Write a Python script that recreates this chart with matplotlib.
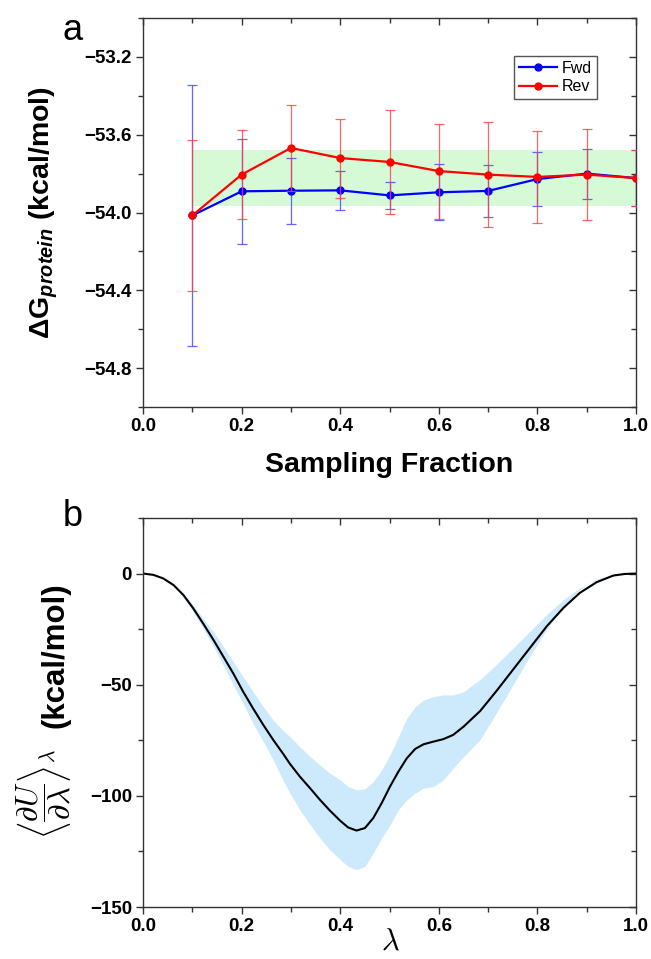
import matplotlib
matplotlib.use("Agg")
import matplotlib.pyplot as plt
from matplotlib.ticker import MultipleLocator
import numpy as np

plt.rcParams['font.family'] = ['Liberation Sans', 'DejaVu Sans']
plt.rcParams['mathtext.fontset'] = 'custom'
plt.rcParams['mathtext.rm'] = 'Liberation Sans:bold'
plt.rcParams['mathtext.it'] = 'Liberation Sans:bold:italic'
plt.rcParams['mathtext.bf'] = 'Liberation Sans:bold'

# panel a: convergence of dG vs sampling fraction
fraction = [0.1, 0.2, 0.3, 0.4, 0.5, 0.6, 0.7, 0.8, 0.9, 1.0]
fwd_dg = [-54.015, -53.891, -53.888, -53.886, -53.912, -53.896, -53.889, -53.828, -53.800, -53.823]
fwd_err = [0.67, 0.27, 0.17, 0.10, 0.07, 0.145, 0.134, 0.14, 0.128, 0.146]
rev_dg = [-54.015, -53.805, -53.668, -53.720, -53.740, -53.787, -53.805, -53.817, -53.805, -53.823]
rev_err = [0.386, 0.23, 0.22, 0.203, 0.266, 0.244, 0.27, 0.237, 0.236, 0.146]
band_lo = -53.968
band_hi = -53.679

# panel b: <dU/dlambda> profile with uncertainty band
lam = [0.0, 0.021, 0.041, 0.062, 0.082, 0.102, 0.122, 0.143, 0.163, 0.183,
       0.203, 0.223, 0.244, 0.264, 0.284,
       0.298, 0.318, 0.339, 0.359, 0.379, 0.400, 0.416, 0.433, 0.450, 0.467,
       0.484, 0.501, 0.518, 0.535, 0.552, 0.569, 0.589, 0.609, 0.629, 0.650,
       0.684, 0.717, 0.751, 0.785, 0.819, 0.853, 0.886, 0.920, 0.954, 0.977, 1.0]
dudl = [0.0, -0.6, -2.2, -5.2, -9.7, -15.7, -22.5, -29.9, -37.4, -44.9,
        -53.1, -60.6, -68.1, -74.8, -81.0,
        -85.6, -91.3, -96.6, -101.8, -106.6, -111.2, -114.2, -115.6, -114.5, -110.0,
        -103.3, -95.8, -89.1, -83.1, -78.9, -76.8, -75.6, -74.5, -72.6, -68.9,
        -61.8, -52.8, -43.1, -33.4, -23.7, -15.4, -8.7, -3.9, -0.9, -0.2, 0.0]
dudl_hi = [0.0, -0.6, -2.2, -5.0, -9.0, -14.2, -20.2, -26.2, -32.9, -39.7,
           -46.4, -53.1, -59.9, -65.9, -70.5,
           -73.4, -77.9, -82.4, -86.1, -89.8, -92.8, -95.8, -97.3, -96.9, -93.6,
           -88.3, -81.6, -73.4, -65.1, -59.9, -56.9, -55.4, -54.6, -54.6, -53.2,
           -47.6, -40.9, -33.4, -25.9, -18.4, -11.7, -6.4, -3.0, -0.9, -0.2, 0.0]
dudl_lo = [0.0, -0.6, -2.2, -5.4, -10.5, -17.2, -24.7, -32.9, -41.2, -50.1,
           -58.4, -67.4, -75.6, -83.8, -93.0,
           -98.8, -106.3, -113.0, -119.0, -124.3, -128.7, -131.7, -133.2, -131.7, -125.7,
           -119.0, -113.0, -106.3, -101.8, -98.8, -96.5, -95.8, -92.8, -87.6, -82.4,
           -74.6, -62.6, -49.9, -37.1, -25.1, -14.7, -7.2, -2.4, -0.45, -0.1, 0.0]


def style_axes(ax):
    for sp in ax.spines.values():
        sp.set_linewidth(1.0)
        sp.set_color('#333333')
    ax.tick_params(which='both', direction='out', width=1.0, color='#333333',
                   labelsize=13.5, pad=3)
    ax.tick_params(which='major', length=5)
    ax.tick_params(which='minor', length=3.5)
    ax.tick_params(which='both', top=True, right=True)
    for lbl in ax.get_xticklabels() + ax.get_yticklabels():
        lbl.set_fontweight('bold')


def mirror_ticks(ax):
    # top/right ticks drawn inward like the original
    for t in ax.xaxis.get_major_ticks() + ax.xaxis.get_minor_ticks():
        t.tick2line.set_marker(3)
    for t in ax.yaxis.get_major_ticks() + ax.yaxis.get_minor_ticks():
        t.tick2line.set_marker(0)


fig = plt.figure(figsize=(6.51, 9.59), dpi=100)
ax_a = fig.add_axes([0.2197, 0.5756, 0.7573, 0.4056])
ax_b = fig.add_axes([0.2197, 0.0542, 0.7573, 0.4057])

# ---- panel a ----
ax_a.fill_between([fraction[0], fraction[-1]], band_lo, band_hi,
                  color='#d6fad6', lw=0, zorder=0)
eb_f = ax_a.errorbar(fraction, fwd_dg, yerr=fwd_err, color='#0000ff',
                     ecolor=(0.25, 0.25, 1.0, 0.8), elinewidth=0.9, capsize=3.5,
                     capthick=0.9, lw=1.6, marker='o', ms=5, zorder=3)
eb_r = ax_a.errorbar(fraction, rev_dg, yerr=rev_err, color='#ff0000',
                     ecolor=(1.0, 0.25, 0.25, 0.8), elinewidth=0.9, capsize=3.5,
                     capthick=0.9, lw=1.6, marker='o', ms=5, zorder=4)
ax_a.set_xlim(0.0, 1.0)
ax_a.set_ylim(-55.0, -53.0)
ax_a.xaxis.set_minor_locator(MultipleLocator(0.1))
ax_a.yaxis.set_minor_locator(MultipleLocator(0.2))
ax_a.set_yticks([-54.8, -54.4, -54.0, -53.6, -53.2])
ax_a.set_xticks([0.0, 0.2, 0.4, 0.6, 0.8, 1.0])
ax_a.set_xticklabels(['0.0', '0.2', '0.4', '0.6', '0.8', '1.0'])
ax_a.set_yticklabels(['\u221254.8', '\u221254.4', '\u221254.0', '\u221253.6', '\u221253.2'])
style_axes(ax_a)
mirror_ticks(ax_a)
ax_a.set_xlabel('Sampling Fraction', fontsize=20.5, fontweight='bold', labelpad=12)
ax_a.set_ylabel('\u0394G$_{protein}$ (kcal/mol)', fontsize=20.5, fontweight='bold')
ax_a.yaxis.set_label_coords(-0.168, 0.5)
leg = ax_a.legend(handles=[eb_f[0], eb_r[0]], labels=['Fwd', 'Rev'], loc='upper right',
                  bbox_to_anchor=(0.921, 0.902), borderaxespad=0,
                  fontsize=11.5, handlelength=2.4, handletextpad=0.3, borderpad=0.3,
                  labelspacing=0.2, fancybox=False, framealpha=1, edgecolor='#555555')
leg.get_frame().set_linewidth(1.0)
fig.text(73 / 651, 1 - 30 / 959, 'a', fontsize=26, ha='center', va='center')

# ---- panel b ----
ax_b.fill_between(lam, dudl_lo, dudl_hi, color='#cde9fc', lw=0, zorder=1)
ax_b.plot(lam, dudl, color='black', lw=1.5, zorder=2)
ax_b.set_xlim(0.0, 1.0)
ax_b.set_ylim(-150, 25)
ax_b.set_xticks([0.0, 0.2, 0.4, 0.6, 0.8, 1.0])
ax_b.set_xticklabels(['0.0', '0.2', '0.4', '0.6', '0.8', '1.0'])
ax_b.xaxis.set_minor_locator(MultipleLocator(0.1))
ax_b.set_yticks([-150, -100, -50, 0])
ax_b.set_yticklabels(['\u2212150', '\u2212100', '\u221250', '0'])
ax_b.yaxis.set_minor_locator(MultipleLocator(25))
style_axes(ax_b)
mirror_ticks(ax_b)
fig.text(390 / 651, 2 / 959, r'$\lambda$', fontsize=22, ha='center', va='bottom',
         math_fontfamily='cm')
ax_b.text(-0.2, 0.29, r'$\left\langle\dfrac{\partial U}{\partial \lambda}\right\rangle_\lambda$',
          transform=ax_b.transAxes, rotation=90, fontsize=22, ha='center', va='center',
          math_fontfamily='cm')
ax_b.text(-0.178, 0.648, '(kcal/mol)', transform=ax_b.transAxes, rotation=90, fontsize=22.5,
          fontweight='bold', ha='center', va='center')
fig.text(73 / 651, 1 - 516 / 959, 'b', fontsize=26, ha='center', va='center')

fig.savefig('out.png', dpi=100)
